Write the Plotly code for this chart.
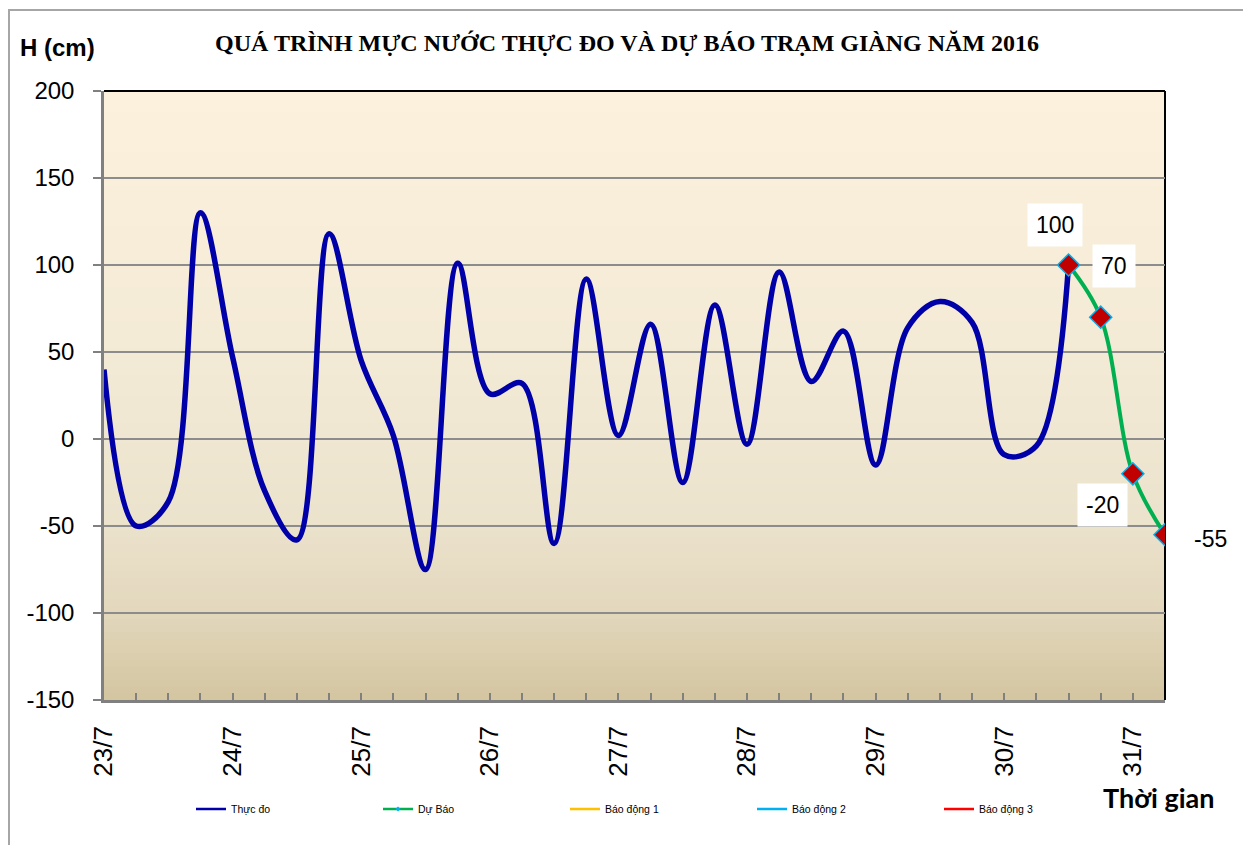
import plotly.graph_objects as go
import pandas as pd

# ---------------- data ----------------
times = pd.date_range("2016-07-23 00:00", periods=34, freq="6h")
observed = [40, -50, -36, 130, 47, -30, -58, 118, 45, 2, -75, 101, 26, 32, -60,
            92, 2, 66, -25, 77, -3, 96, 33, 62, -15, 64, 79, 67, -9, -4, 100]
forecast = [100, 70, -20, -55]
series_names = ["Thực đo", "Dự Báo", "Báo động 1", "Báo động 2", "Báo động 3"]
y_tick_values = [-150, -100, -50, 0, 50, 100, 150, 200]
y_tick_labels = ["-150", "-100", "-50", "0", "50", "100", "150", "200"]
title_text = "QUÁ TRÌNH MỰC NƯỚC THỰC ĐO VÀ DỰ BÁO TRẠM GIÀNG NĂM 2016"
y_title = "H (cm)"
x_title = "Thời gian"

x_obs = times[:len(observed)]
x_fc = times[len(observed) - 1:len(observed) - 1 + len(forecast)]

# ---------------- styles ----------------
colors = ["#0000A8", "#00B050", "#FFC000", "#00B0F0", "#FF0000"]
label_shift = [(-14, 40), (13, 51), (-30, -31), (45, -4)]  # (xshift, yshift) px

fig = go.Figure()

fig.add_trace(go.Scatter(x=x_obs, y=observed, mode="lines",
                         line=dict(color=colors[0], width=5.5, shape="spline", smoothing=1),
                         showlegend=False, hoverinfo="skip"))
fig.add_trace(go.Scatter(x=x_fc, y=forecast, mode="lines+markers",
                         line=dict(color=colors[1], width=4, shape="spline", smoothing=1),
                         marker=dict(symbol="diamond", size=17, color="#C00000",
                                     line=dict(color="#00B0F0", width=1.5)),
                         showlegend=False, hoverinfo="skip"))

# legend-only entries
for k, (name, c) in enumerate(zip(series_names, colors)):
    if k == 1:
        fig.add_trace(go.Scatter(x=[None], y=[None], mode="lines+markers", name=name,
                                 line=dict(color=c, width=2.5),
                                 marker=dict(symbol="diamond", size=4, color="#00B0F0")))
    else:
        fig.add_trace(go.Scatter(x=[None], y=[None], mode="lines", name=name,
                                 line=dict(color=c, width=2.5)))

# data labels
for xv, yv, (dx, dy) in zip(x_fc, forecast, label_shift):
    fig.add_annotation(x=xv, y=yv, text=str(yv), showarrow=False,
                       xshift=dx, yshift=dy, bgcolor="white", borderpad=8,
                       font=dict(family="Liberation Sans", size=23, color="black"))

# gradient background bands
stops = [(0.0, (252, 241, 221)), (0.45, (243, 234, 214)), (0.7, (236, 227, 205)),
         (0.85, (227, 216, 189)), (1.0, (211, 197, 160))]

def col_at(t):
    for (t0, c0), (t1, c1) in zip(stops[:-1], stops[1:]):
        if t0 <= t <= t1:
            f = (t - t0) / (t1 - t0)
            return tuple(round(a + (b - a) * f) for a, b in zip(c0, c1))
    return stops[-1][1]

shapes = []
nb = 90
for i in range(nb):
    t = (i + 0.5) / nb  # fraction from top
    r, g, b = col_at(t)
    y1 = 1 - i / nb
    y0 = 1 - (i + 1) / nb - 0.002
    shapes.append(dict(type="rect", xref="paper", yref="paper", x0=0, x1=1,
                       y0=max(y0, 0), y1=y1, line=dict(width=0),
                       fillcolor=f"rgb({r},{g},{b})", layer="below"))
# plot border top/right
shapes.append(dict(type="line", xref="paper", yref="paper", x0=0, x1=1, y0=1, y1=1,
                   line=dict(color="black", width=2), layer="below"))
shapes.append(dict(type="line", xref="paper", yref="paper", x0=1, x1=1, y0=0, y1=1,
                   line=dict(color="black", width=2), layer="below"))
# outer chart border
shapes.append(dict(type="rect", xref="paper", yref="paper",
                   x0=(9 - 104) / 1061, x1=(1246 - 104) / 1061,
                   y0=(700 - 870) / 609, y1=(700 - 10) / 609,
                   line=dict(color="#A6A6A6", width=2), fillcolor="rgba(0,0,0,0)"))

fig.update_layout(
    width=1251, height=845,
    margin=dict(l=96, r=94, t=83, b=153),
    paper_bgcolor="white", plot_bgcolor="rgb(252,241,221)",
    shapes=shapes,
    title=dict(text=title_text, x=619 / 1251, xref="container", xanchor="center",
               y=1 - 35 / 845, yref="container", yanchor="middle",
               font=dict(family="Liberation Serif", size=24, color="black", weight="bold")),
    legend=dict(orientation="h", x=0.082, y=-0.179, xanchor="left", yanchor="middle",
                font=dict(family="Liberation Sans", size=10.5, color="black"),
                entrywidth=142, entrywidthmode="pixels", bgcolor="rgba(0,0,0,0)"),
    font=dict(family="Liberation Sans", color="black"),
)

fig.add_annotation(text=f"<b>{y_title}</b>", xref="paper", yref="paper",
                   x=(57 - 104) / 1061, y=(700 - 47) / 609, showarrow=False,
                   xanchor="center", yanchor="middle",
                   font=dict(family="Liberation Sans", size=24, color="black"))
fig.add_annotation(text=f"<b>{x_title}</b>", xref="paper", yref="paper",
                   x=(1159 - 104) / 1061, y=(700 - 797) / 609, showarrow=False,
                   xanchor="center", yanchor="middle",
                   font=dict(family="Lato", size=27, color="black"))

fig.update_xaxes(type="date", range=[times[0], times[-1]],
                 tickformat="%-d/%-m", dtick=86400000, tick0=times[0],
                 tickangle=-90, ticks="inside", ticklen=7, tickcolor="#808080", tickwidth=2,
                 minor=dict(dtick=6 * 3600000, ticks="inside", ticklen=7,
                            tickcolor="#808080", tickwidth=1.5, showgrid=False),
                 showline=True, linecolor="#808080", linewidth=2.5,
                 showgrid=False, zeroline=False, ticklabelstandoff=13,
                 tickfont=dict(family="Liberation Sans", size=26, color="black"))
fig.update_yaxes(range=[-150, 200], tickmode="array", tickvals=y_tick_values,
                 ticktext=y_tick_labels,
                 ticks="outside", ticklen=8, tickcolor="#808080", tickwidth=2,
                 showline=True, linecolor="#808080", linewidth=2.5,
                 showgrid=True, gridcolor="#8C8C8C", gridwidth=1.5, zeroline=False,
                 ticklabelstandoff=14,
                 tickfont=dict(family="Liberation Sans", size=24, color="black"))

fig.write_html("out.html")
